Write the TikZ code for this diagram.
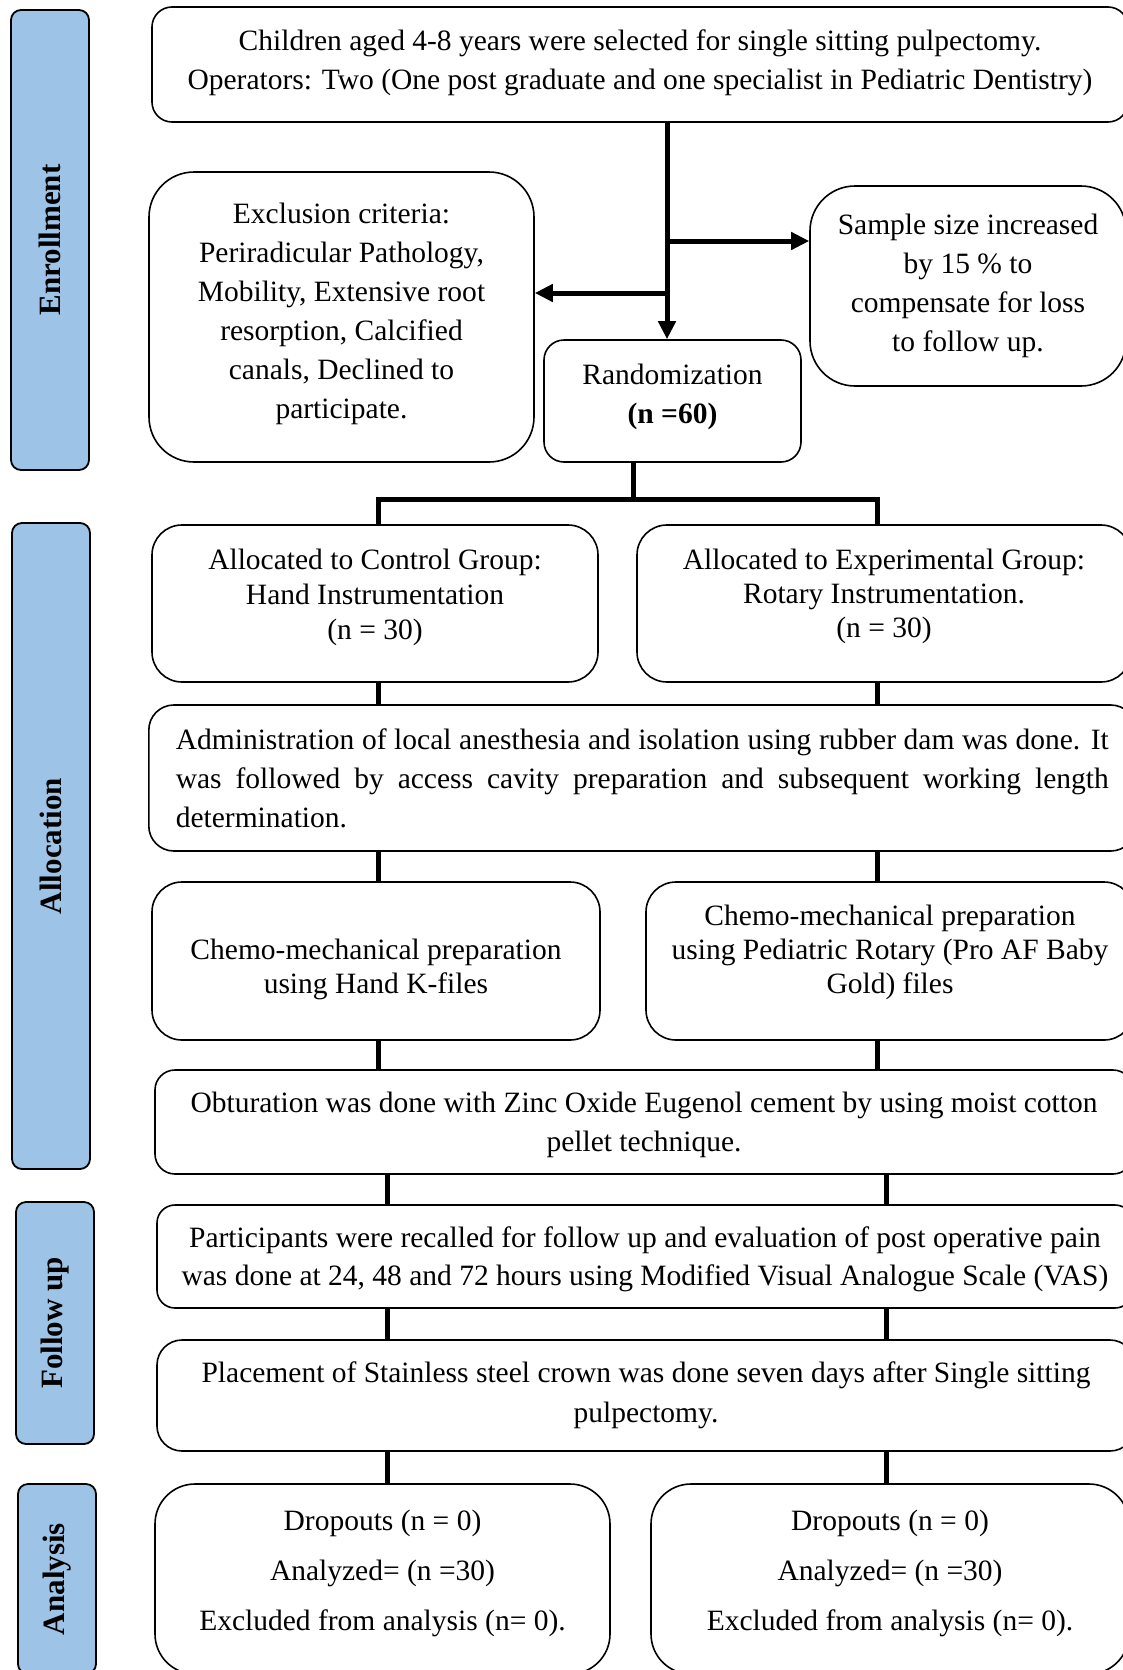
\documentclass[tikz,border=0pt]{standalone}
\usepackage{fontspec}
\setmainfont{Liberation Serif}
\usetikzlibrary{arrows.meta}
\definecolor{barblue}{RGB}{157,195,230}
\begin{document}
\begin{tikzpicture}[x=1pt,y=-1pt,
 every node/.style={font=\fontsize{29.5}{39}\selectfont},
 box/.style={draw, line width=1.6pt, rounded corners=#1, align=center, inner sep=0pt},
 box/.default=20pt,
 lbl/.style={align=center, inner sep=0pt},
 bar/.style={draw, line width=1.8pt, fill=barblue, rounded corners=10pt, rotate=90, inner sep=0pt, font=\fontsize{31}{37}\selectfont\bfseries},
 conn/.style={line width=5pt, line join=miter},
 arr/.style={line width=5pt, -{Triangle[length=18pt,width=17pt]}},
]
\useasboundingbox (0,0) rectangle (1122,1670);

% side bars
\node[bar, minimum width=460pt, minimum height=78pt] (enr) at (50,240) {Enrollment};
\node[bar, minimum width=646pt, minimum height=78pt] (alloc) at (51,846) {Allocation};
\node[bar, minimum width=242pt, minimum height=78pt] (fol) at (55,1323) {Follow up};
\node[bar, minimum width=190pt, minimum height=78pt] (ana) at (57,1579) {Analysis};

% boxes
\node[box=20pt, minimum width=976pt, minimum height=115pt,
 label={[name=top-t, lbl, yshift=2pt]center:{Children aged 4-8 years were selected for single sitting pulpectomy.\\Operators: Two (One post graduate and one specialist in Pediatric Dentistry)}}] (top) at (640,64.5) {};
\node[box=45pt, minimum width=385pt, minimum height=290pt,
 label={[name=excl-t, lbl, yshift=3pt]center:{Exclusion criteria:\\Periradicular Pathology,\\Mobility, Extensive root\\resorption, Calcified\\canals, Declined to\\participate.}}] (excl) at (341.5,317) {};
\node[box=45pt, minimum width=316pt, minimum height=200pt] (samp) at (968,286)
 {Sample size increased\\by 15 \% to\\compensate for loss\\to follow up.};
\node[box=20pt, minimum width=257pt, minimum height=122pt,
 label={[name=rand-t, lbl, yshift=4.5pt]center:{Randomization\\\textbf{(n =60)}}}] (rand) at (672.5,401) {};
\node[box=30pt, minimum width=446pt, minimum height=157pt,
 label={[name=ctrl-t, lbl, yshift=6.5pt, font=\fontsize{29.5}{35}\selectfont]center:{Allocated to Control Group:\\Hand Instrumentation\\(n = 30)}}] (ctrl) at (375,603.5) {};
\node[box=30pt, minimum width=494pt, minimum height=157pt,
 label={[name=expg-t, lbl, yshift=7.5pt, font=\fontsize{29.5}{34}\selectfont]center:{Allocated to Experimental Group:\\Rotary Instrumentation.\\(n = 30)}}] (expg) at (884,603.5) {};
\node[box=25pt, anchor=west, text width=933pt, inner xsep=27pt, minimum height=146pt, align=justify] (admin) at (148,778)
 {Administration of local anesthesia and isolation using rubber dam was done. It\linebreak was followed by access cavity preparation and subsequent working length\linebreak determination.};
\node[box=30pt, minimum width=448pt, minimum height=158pt,
 label={[name=chl-t, lbl, yshift=-8.5pt, font=\fontsize{29.5}{34}\selectfont]center:{Chemo-mechanical preparation\\using Hand K-files}}] (chl) at (376,961) {};
\node[box=30pt, minimum width=488pt, minimum height=158pt,
 label={[name=chr-t, lbl, yshift=8.5pt, font=\fontsize{29.5}{34}\selectfont]center:{Chemo-mechanical preparation\\using Pediatric Rotary (Pro AF Baby\\Gold) files}}] (chr) at (890,961) {};
\node[box=20pt, minimum width=978pt, minimum height=104pt,
 label={[name=obt-t, lbl, yshift=-3pt]center:{Obturation was done with Zinc Oxide Eugenol cement by using moist cotton\\pellet technique.}}] (obt) at (644,1122) {};
\node[box=18pt, minimum width=976pt, minimum height=103pt,
 label={[name=part-t, lbl, yshift=-3pt, font=\fontsize{29.5}{38}\selectfont]center:{Participants were recalled for follow up and evaluation of post operative pain\\was done at 24, 48 and 72 hours using Modified Visual Analogue Scale (VAS)}}] (part) at (645,1256.5) {};
\node[box=25pt, minimum width=978pt, minimum height=111pt, font=\fontsize{29.5}{40}\selectfont] (plc) at (646,1395.5)
 {Placement of Stainless steel crown was done seven days after Single sitting\\pulpectomy.};
\node[box=40pt, minimum width=455pt, minimum height=190pt,
 label={[name=drl-t, lbl, yshift=5.5pt, font=\fontsize{29.5}{50}\selectfont]center:{Dropouts (n = 0)\\Analyzed= (n =30)\\Excluded from analysis (n= 0).}}] (drl) at (382.5,1579) {};
\node[box=40pt, minimum width=478pt, minimum height=190pt,
 label={[name=drr-t, lbl, yshift=5.5pt, font=\fontsize{29.5}{50}\selectfont]center:{Dropouts (n = 0)\\Analyzed= (n =30)\\Excluded from analysis (n= 0).}}] (drr) at (890,1579) {};

% helper coordinates
\coordinate (tx) at (667,0);
\coordinate (jr) at (667,241);
\coordinate (jl) at (667,293);
\coordinate (rj) at (633,499);
\coordinate (xl) at (378,0);
\coordinate (xr) at (877,0);
\coordinate (xl2) at (387,0);
\coordinate (xr2) at (886,0);

% enrollment arrows
\draw[arr] (top.south -| tx) -- (rand.north -| tx);
\draw[arr] (jr) -- (jr -| samp.west);
\draw[arr] (jl) -- (jl -| excl.east);

% randomization split
\draw[conn] (rand.south -| rj) -- (rj);
\draw[conn] (ctrl.north -| xl) -- (xl |- rj) -- (xr |- rj) -- (expg.north -| xr);

% short connectors
\draw[conn] (ctrl.south -| xl) -- (admin.north -| xl);
\draw[conn] (expg.south -| xr) -- (admin.north -| xr);
\draw[conn] (admin.south -| xl) -- (chl.north -| xl);
\draw[conn] (admin.south -| xr) -- (chr.north -| xr);
\draw[conn] (chl.south -| xl) -- (obt.north -| xl);
\draw[conn] (chr.south -| xr) -- (obt.north -| xr);
\draw[conn] (obt.south -| xl2) -- (part.north -| xl2);
\draw[conn] (obt.south -| xr2) -- (part.north -| xr2);
\draw[conn] (part.south -| xl2) -- (plc.north -| xl2);
\draw[conn] (part.south -| xr2) -- (plc.north -| xr2);
\draw[conn] (plc.south -| xl2) -- (drl.north -| xl2);
\draw[conn] (plc.south -| xr2) -- (drr.north -| xr2);
\end{tikzpicture}
\end{document}
